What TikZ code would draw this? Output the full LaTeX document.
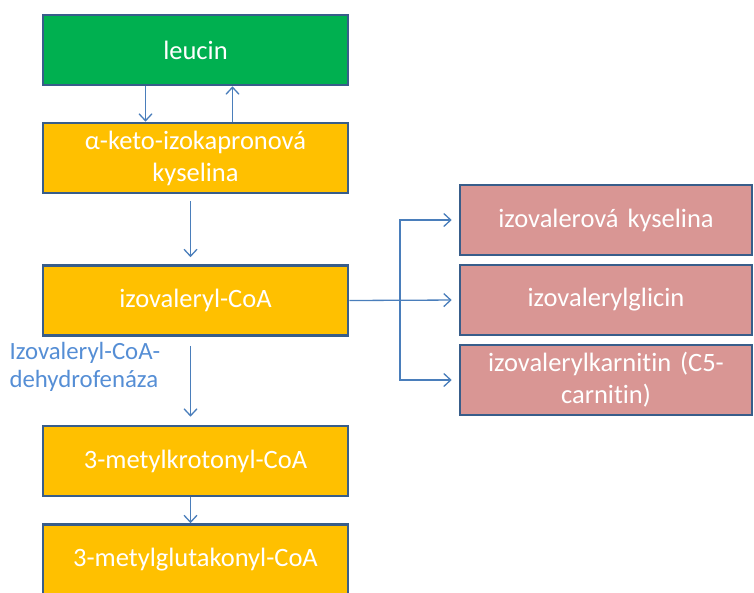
\documentclass[tikz,border=0pt]{standalone}
\usepackage{fontspec}
\setmainfont[Ligatures=NoCommon]{Carlito}
\usepackage{xcolor}
\usepackage{tikz}
\usetikzlibrary{positioning}
\usetikzlibrary{arrows.meta}
\definecolor{leugreen}{HTML}{00B050}
\definecolor{metorange}{HTML}{FFC000}
\definecolor{prodpink}{HTML}{D99694}
\definecolor{boxline}{HTML}{385D8A}
\definecolor{arrblue}{HTML}{4A7EBB}
\definecolor{enzblue}{HTML}{558ED5}

\begin{document}
\begin{tikzpicture}[x=1pt, y=-1pt,
  box/.style = {draw=boxline,line width=2.6pt,minimum width=305pt,minimum height=70pt,
        text=white,align=center,font=\fontsize{26.5}{32}\selectfont},
  met/.style = {box,fill=metorange},
  prod/.style = {box,fill=prodpink,minimum width=292pt,text width=284pt},
  arr/.style = {draw=arrblue,line width=1.3pt,-{Straight Barb[length=7pt,width=13pt]}}
]
 \useasboundingbox (0,0) rectangle (754,592);
 \node[box,fill=leugreen] (b1) at (195.5,50) {leucin};
 \node[met] (b2) at (195.5,158) {α-keto-izokapronová\\kyselina};
 \node[met] (b3) at (195.5,300.5) {izovaleryl-CoA};
 \node[met] (b4) at (195.5,461) {3-metylkrotonyl-CoA};
 \node[met] (b5) at (195.5,559.5) {3-metylglutakonyl-CoA};
 \node[prod] (p1) at (606,220) {izovalerová kyselina};
 \node[prod] (p2) at (606,300) {izovalerylglicin};
 \node[prod] (p3) at (606,380) {izovalerylkarnitin (C5-\\carnitin)};
 \node[anchor=west,align=left,text=enzblue,font=\fontsize{24.8}{28}\selectfont] (enz) at (6,367) {Izovaleryl-CoA-\\dehydrofenáza};
 \coordinate (fork) at (400,300);
 \begin{scope}[arr]
 \draw ([xshift=-50pt]b1.south) -- ([xshift=-50pt]b2.north);
 \draw ([xshift=37pt]b2.north) -- ([xshift=37pt]b1.south);
 \draw[shorten <=7pt,shorten >=7pt] ([xshift=-5pt]b2.south) -- ([xshift=-5pt]b3.north);
 \draw[shorten <=9pt,shorten >=8pt] ([xshift=-5pt]b3.south) -- ([xshift=-5pt]b4.north);
 \draw ([xshift=-5pt]b4.south) -- ([xshift=-5pt]b5.north);
 \draw[shorten >=7pt] (b3.east) -- (p2.west);
 \draw[shorten >=7pt] (fork) |- (p1.west);
 \draw[shorten >=7pt] (fork) |- (p3.west);
 \end{scope}
\end{tikzpicture}
\end{document}
